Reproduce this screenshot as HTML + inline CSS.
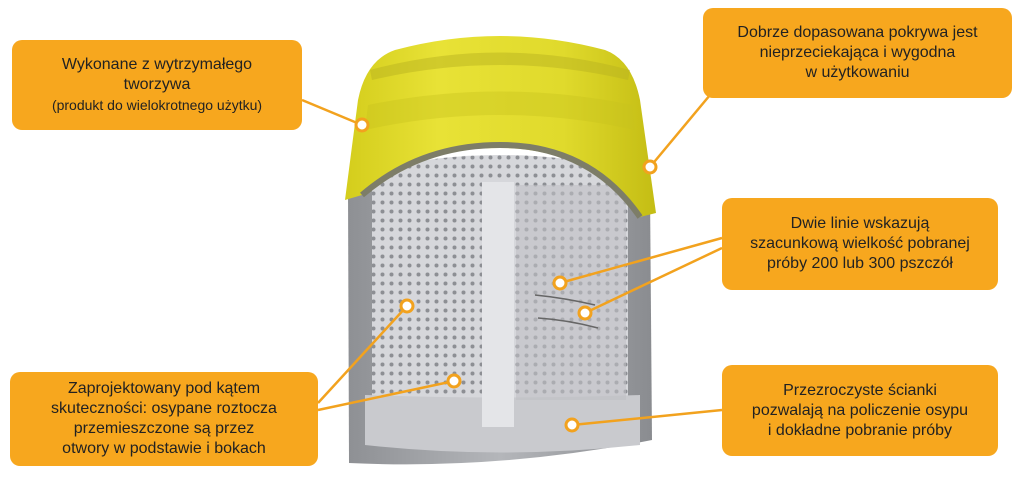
<!DOCTYPE html>
<html><head><meta charset="utf-8"><style>
body{margin:0;width:1024px;height:486px;background:#fff;position:relative;overflow:hidden;font-family:"Liberation Sans",sans-serif;}
.b{position:absolute;background:#f7a71e;border-radius:10px;color:#222;text-align:center;font-size:16px;line-height:20px;display:flex;flex-direction:column;justify-content:center;}
svg{position:absolute;left:0;top:0}
</style></head><body>
<svg width="1024" height="486">
<defs>
<linearGradient id="lid" x1="0" x2="1"><stop offset="0" stop-color="#d4cd1c"/><stop offset=".3" stop-color="#e8e236"/><stop offset=".7" stop-color="#e0da2c"/><stop offset="1" stop-color="#c4bd14"/></linearGradient>
<linearGradient id="bd" x1="0" x2="1"><stop offset="0" stop-color="#8e9094"/><stop offset=".5" stop-color="#b4b6ba"/><stop offset="1" stop-color="#8a8c90"/></linearGradient>
<pattern id="holes" width="9" height="9" patternUnits="userSpaceOnUse"><rect width="9" height="9" fill="#d6d7db"/><circle cx="4.5" cy="4.5" r="2" fill="#8d8f94"/></pattern>
</defs>
<!-- body -->
<path d="M348 190 L650 190 L652 440 Q500 470 349 463 Z" fill="url(#bd)"/>
<path d="M372 170 Q500 140 628 170 L628 410 Q500 420 372 410 Z" fill="url(#holes)"/>
<path d="M365 395 Q500 400 640 395 L640 445 Q500 460 365 445 Z" fill="#c9cace"/>
<rect x="482" y="182" width="32" height="245" fill="#e4e5e8"/>
<rect x="516" y="185" width="110" height="215" fill="#bfc0c4" opacity=".6"/>
<path d="M535 295 Q565 298 595 305 M538 318 Q568 320 598 328" stroke="#666" stroke-width="1.5" fill="none"/>
<!-- lid -->
<path d="M345 200 L358 100 Q366 60 395 50 Q500 22 605 50 Q632 60 640 100 L656 213 L640 217 Q590 148 500 148 Q410 148 362 195 Z" fill="url(#lid)"/>
<path d="M370 70 Q500 35 630 70 L628 80 Q500 50 372 80 Z" fill="#b9b320" opacity=".5"/>
<path d="M362 195 Q420 145 500 145 Q590 145 640 217" stroke="#7d7d68" stroke-width="6" fill="none"/>
<path d="M368 105 Q500 78 632 105 L635 130 Q500 100 365 130 Z" fill="#c8c21e" opacity=".4"/>
<!-- lines -->
<g stroke="#f2a21e" stroke-width="2.5" fill="none">
<line x1="302" y1="100" x2="362" y2="125"/>
<line x1="710" y1="95" x2="650" y2="167"/>
<line x1="722" y1="238" x2="560" y2="283"/>
<line x1="722" y1="248" x2="585" y2="313"/>
<line x1="318" y1="403" x2="407" y2="306"/>
<line x1="318" y1="410" x2="454" y2="381"/>
<line x1="722" y1="410" x2="572" y2="425"/>
</g>
<g fill="#fff" stroke="#f2a21e" stroke-width="3">
<circle cx="362" cy="125" r="6"/><circle cx="650" cy="167" r="6"/><circle cx="560" cy="283" r="6"/><circle cx="585" cy="313" r="6"/><circle cx="407" cy="306" r="6"/><circle cx="454" cy="381" r="6"/><circle cx="572" cy="425" r="6"/>
</g>
</svg>
<div class="b" style="left:12px;top:40px;width:290px;height:90px"><div>Wykonane z wytrzymałego</div><div>tworzywa</div><div style="font-size:14px">(produkt do wielokrotnego użytku)</div></div>
<div class="b" style="left:703px;top:8px;width:309px;height:90px"><div>Dobrze dopasowana pokrywa jest</div><div>nieprzeciekająca i wygodna</div><div>w użytkowaniu</div></div>
<div class="b" style="left:722px;top:198px;width:276px;height:92px"><div>Dwie linie wskazują</div><div>szacunkową wielkość pobranej</div><div>próby 200 lub 300 pszczół</div></div>
<div class="b" style="left:10px;top:372px;width:308px;height:94px"><div>Zaprojektowany pod kątem</div><div>skuteczności: osypane roztocza</div><div>przemieszczone są przez</div><div>otwory w podstawie i bokach</div></div>
<div class="b" style="left:722px;top:365px;width:276px;height:91px"><div>Przezroczyste ścianki</div><div>pozwalają na policzenie osypu</div><div>i dokładne pobranie próby</div></div>
</body></html>
